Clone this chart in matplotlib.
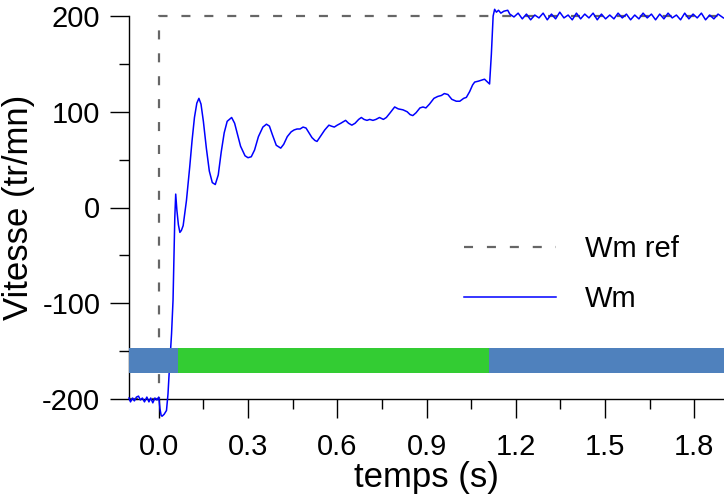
import matplotlib
matplotlib.use("Agg")
import matplotlib.pyplot as plt
from matplotlib.ticker import MultipleLocator, FormatStrFormatter
from matplotlib.lines import Line2D

plt.rcParams['font.family'] = ['Liberation Sans', 'DejaVu Sans']
plt.rcParams['axes.unicode_minus'] = False
plt.rcParams['lines.scale_dashes'] = False

# reference speed
t_ref = [-0.1, 0.0, 0.0, 1.9]
w_ref = [-200, -200, 200, 200]

# measured speed
t_wm = [-0.100, -0.095, -0.088, -0.082, -0.075, -0.068, -0.062, -0.055, -0.048, -0.040,
        -0.033, -0.027, -0.020, -0.013, -0.006, 0.000, 0.004, 0.008, 0.011, 0.018,
        0.026, 0.031, 0.035, 0.043, 0.048, 0.051, 0.054, 0.057, 0.061, 0.066,
        0.071, 0.076, 0.082, 0.093, 0.104, 0.112, 0.120, 0.128, 0.135, 0.142,
        0.150, 0.160, 0.170, 0.180, 0.190, 0.200, 0.210, 0.220, 0.230, 0.245,
        0.255, 0.265, 0.275, 0.290, 0.300, 0.311, 0.322, 0.335, 0.350, 0.362,
        0.372, 0.382, 0.395, 0.410, 0.420, 0.432, 0.445, 0.455, 0.465, 0.475,
        0.485, 0.495, 0.505, 0.515, 0.525, 0.532, 0.545, 0.558, 0.572, 0.580,
        0.590, 0.600, 0.612, 0.628, 0.638, 0.649, 0.660, 0.672, 0.681, 0.690,
        0.700, 0.709, 0.720, 0.730, 0.742, 0.755, 0.765, 0.778, 0.793, 0.805,
        0.821, 0.835, 0.845, 0.854, 0.865, 0.878, 0.888, 0.898, 0.910, 0.925,
        0.938, 0.950, 0.960, 0.972, 0.985, 1.000, 1.012, 1.025, 1.034, 1.045,
        1.055, 1.062, 1.075, 1.085, 1.095, 1.105, 1.112, 1.118, 1.124, 1.129,
        1.135, 1.142, 1.150, 1.160, 1.173, 1.180, 1.194, 1.208, 1.222, 1.236,
        1.250, 1.264, 1.278, 1.292, 1.306, 1.320, 1.334, 1.348, 1.362, 1.376,
        1.390, 1.404, 1.418, 1.432, 1.446, 1.460, 1.474, 1.488, 1.502, 1.516,
        1.530, 1.544, 1.558, 1.572, 1.586, 1.600, 1.614, 1.628, 1.642, 1.656,
        1.670, 1.684, 1.698, 1.712, 1.726, 1.740, 1.754, 1.768, 1.782, 1.796,
        1.810, 1.824, 1.838, 1.852, 1.866, 1.880, 1.898]
w_wm = [-199, -203, -199, -202, -198, -197, -201, -199, -203, -198,
        -203, -199, -204, -199, -201, -198, -210, -217, -218, -216,
        -212, -195, -173, -132, -97, -55, -10, 14, -3, -18,
        -26, -24, -19, 7, 42, 70, 94, 109, 114, 108,
        90, 62, 38, 26, 24, 34, 58, 78, 90, 94,
        88, 76, 64, 54, 52, 53, 60, 74, 84, 87,
        85, 76, 65, 62, 66, 74, 79, 81, 82, 82,
        84, 83, 78, 73, 70, 69, 75, 81, 86, 85,
        84, 86, 88, 91, 88, 86, 88, 92, 94, 92,
        91, 92, 91, 92, 94, 92, 94, 99, 105, 103,
        102, 100, 97, 96, 99, 104, 105, 104, 108, 114,
        116, 117, 119, 118, 113, 111, 111, 114, 115, 121,
        128, 131, 132, 133, 134, 131, 129, 160, 200, 207,
        204, 206, 203, 205, 206, 202, 199, 203, 197, 202,
        196, 201, 198, 203, 196, 202, 197, 204, 198, 201,
        196, 203, 197, 202, 198, 203, 196, 202, 197, 201,
        197, 203, 198, 202, 196, 201, 197, 203, 198, 202,
        196, 202, 197, 203, 198, 201, 196, 203, 197, 202,
        198, 203, 196, 201, 197, 202, 198]

# control phases bar
phase_start = [-0.1, 0.064, 1.109]
phase_end = [0.064, 1.109, 1.9]
phase_colors = ['#4F81BD', '#33CC33', '#4F81BD']
bar_low, bar_high = -173, -147

fig = plt.figure(figsize=(7.24, 4.97), dpi=100)
ax = fig.add_axes([129/724, 98/497, 1 - 129/724, (399 - 16)/497])

ax.plot(t_ref, w_ref, color='#666666', lw=1.6, dashes=(6.5, 10), clip_on=False, zorder=2)
ax.plot(t_wm, w_wm, color='#0000FF', lw=1.1, clip_on=False, zorder=3)

ax.broken_barh([(s, e - s) for s, e in zip(phase_start, phase_end)],
               (bar_low, bar_high - bar_low), facecolors=phase_colors, zorder=4)

ax.set_xlim(-0.1, 1.9)
ax.set_ylim(-200, 200)
ax.spines['top'].set_visible(False)
ax.spines['right'].set_visible(False)
for s in ('left', 'bottom'):
    ax.spines[s].set_linewidth(1.0)

ax.xaxis.set_major_locator(MultipleLocator(0.3))
ax.xaxis.set_minor_locator(MultipleLocator(0.15))
ax.xaxis.set_major_formatter(FormatStrFormatter('%.1f'))
ax.yaxis.set_major_locator(MultipleLocator(100))
ax.yaxis.set_minor_locator(MultipleLocator(50))
ax.tick_params(which='major', length=13.7, width=1.0, direction='out', labelsize=21)
ax.tick_params(which='minor', length=7, width=1.0, direction='out')
ax.tick_params(axis='x', which='major', pad=11)
ax.tick_params(axis='y', which='major', pad=7)

ax.set_ylabel('Vitesse (tr/mn)', fontsize=25)
ax.set_xlabel('temps (s)', fontsize=25)
ax.yaxis.set_label_coords(-0.158, 0.5)
ax.xaxis.set_label_coords(0.5, -0.163)

handles = [Line2D([], [], color='#666666', lw=1.6, dashes=(6.5, 10)),
           Line2D([], [], color='#0000FF', lw=1.1)]
ax.legend(handles, ['Wm ref', 'Wm'], loc='center left', bbox_to_anchor=(438/724, 1 - 274/497),
          bbox_transform=fig.transFigure, frameon=False, fontsize=21,
          handlelength=3.15, handletextpad=1.0, labelspacing=0.75)

fig.savefig('out.png', dpi=100)
